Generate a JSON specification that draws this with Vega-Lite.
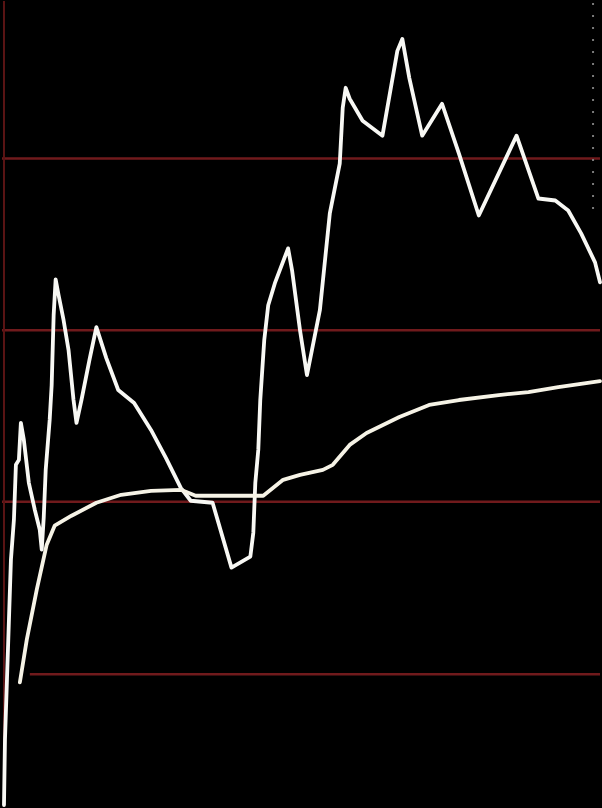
{
  "$schema": "https://vega.github.io/schema/vega-lite/v6.json",
  "width": 602,
  "height": 808,
  "padding": 0,
  "autosize": {"type": "fit", "contains": "padding"},
  "background": "#000000",
  "config": {"view": {"stroke": null}},
  "datasets": {
    "grid": [{"g": 158, "a": 0, "b": 602}, {"g": 330, "a": 0, "b": 602}, {"g": 502, "a": 0, "b": 602}, {"g": 675, "a": 28, "b": 602}],
    "vline": [{"vx": 2}],
    "dots": [{"dx": 595, "top": 2, "bottom": 212}],
    "series": [
      {"s": "price", "x": 2, "y": 806},
      {"s": "price", "x": 3, "y": 740},
      {"s": "price", "x": 5, "y": 680},
      {"s": "price", "x": 7, "y": 620},
      {"s": "price", "x": 9, "y": 560},
      {"s": "price", "x": 12, "y": 520},
      {"s": "price", "x": 14, "y": 465},
      {"s": "price", "x": 17, "y": 460},
      {"s": "price", "x": 19, "y": 423},
      {"s": "price", "x": 22, "y": 440},
      {"s": "price", "x": 27, "y": 483},
      {"s": "price", "x": 33, "y": 510},
      {"s": "price", "x": 38, "y": 530},
      {"s": "price", "x": 40, "y": 550},
      {"s": "price", "x": 42, "y": 518},
      {"s": "price", "x": 44, "y": 470},
      {"s": "price", "x": 48, "y": 420},
      {"s": "price", "x": 50, "y": 385},
      {"s": "price", "x": 52, "y": 315},
      {"s": "price", "x": 54, "y": 279},
      {"s": "price", "x": 57, "y": 295},
      {"s": "price", "x": 62, "y": 320},
      {"s": "price", "x": 67, "y": 350},
      {"s": "price", "x": 72, "y": 400},
      {"s": "price", "x": 75, "y": 423},
      {"s": "price", "x": 80, "y": 400},
      {"s": "price", "x": 88, "y": 360},
      {"s": "price", "x": 95, "y": 327},
      {"s": "price", "x": 105, "y": 358},
      {"s": "price", "x": 117, "y": 390},
      {"s": "price", "x": 133, "y": 403},
      {"s": "price", "x": 150, "y": 430},
      {"s": "price", "x": 165, "y": 458},
      {"s": "price", "x": 180, "y": 488},
      {"s": "price", "x": 190, "y": 501},
      {"s": "price", "x": 212, "y": 503},
      {"s": "price", "x": 231, "y": 568},
      {"s": "price", "x": 250, "y": 557},
      {"s": "price", "x": 253, "y": 533},
      {"s": "price", "x": 255, "y": 483},
      {"s": "price", "x": 258, "y": 450},
      {"s": "price", "x": 260, "y": 400},
      {"s": "price", "x": 264, "y": 340},
      {"s": "price", "x": 268, "y": 305},
      {"s": "price", "x": 275, "y": 282},
      {"s": "price", "x": 288, "y": 248},
      {"s": "price", "x": 292, "y": 270},
      {"s": "price", "x": 300, "y": 330},
      {"s": "price", "x": 307, "y": 375},
      {"s": "price", "x": 312, "y": 350},
      {"s": "price", "x": 320, "y": 310},
      {"s": "price", "x": 330, "y": 213},
      {"s": "price", "x": 340, "y": 163},
      {"s": "price", "x": 343, "y": 107},
      {"s": "price", "x": 346, "y": 87},
      {"s": "price", "x": 350, "y": 98},
      {"s": "price", "x": 363, "y": 120},
      {"s": "price", "x": 383, "y": 135},
      {"s": "price", "x": 398, "y": 50},
      {"s": "price", "x": 403, "y": 38},
      {"s": "price", "x": 410, "y": 77},
      {"s": "price", "x": 423, "y": 135},
      {"s": "price", "x": 443, "y": 103},
      {"s": "price", "x": 460, "y": 153},
      {"s": "price", "x": 480, "y": 215},
      {"s": "price", "x": 518, "y": 135},
      {"s": "price", "x": 540, "y": 198},
      {"s": "price", "x": 557, "y": 200},
      {"s": "price", "x": 570, "y": 210},
      {"s": "price", "x": 583, "y": 233},
      {"s": "price", "x": 597, "y": 262},
      {"s": "price", "x": 602, "y": 282},
      {"s": "avg", "x": 18, "y": 683},
      {"s": "avg", "x": 25, "y": 640},
      {"s": "avg", "x": 35, "y": 590},
      {"s": "avg", "x": 45, "y": 545},
      {"s": "avg", "x": 53, "y": 526},
      {"s": "avg", "x": 70, "y": 516},
      {"s": "avg", "x": 95, "y": 503},
      {"s": "avg", "x": 120, "y": 495},
      {"s": "avg", "x": 150, "y": 491},
      {"s": "avg", "x": 180, "y": 490},
      {"s": "avg", "x": 195, "y": 496},
      {"s": "avg", "x": 263, "y": 496},
      {"s": "avg", "x": 283, "y": 480},
      {"s": "avg", "x": 300, "y": 475},
      {"s": "avg", "x": 323, "y": 470},
      {"s": "avg", "x": 333, "y": 465},
      {"s": "avg", "x": 350, "y": 445},
      {"s": "avg", "x": 367, "y": 433},
      {"s": "avg", "x": 400, "y": 417},
      {"s": "avg", "x": 430, "y": 405},
      {"s": "avg", "x": 460, "y": 400},
      {"s": "avg", "x": 500, "y": 395},
      {"s": "avg", "x": 530, "y": 392},
      {"s": "avg", "x": 560, "y": 387},
      {"s": "avg", "x": 602, "y": 381}
    ]
  },
  "layer": [
    {
      "data": {"name": "grid"},
      "mark": {"type": "rule", "color": "#701a1c", "strokeWidth": 2.5},
      "encoding": {
        "x": {"field": "a", "type": "quantitative", "scale": {"domain": [0, 602], "nice": false, "zero": false}, "axis": null},
        "x2": {"field": "b"},
        "y": {"field": "g", "type": "quantitative", "scale": {"domain": [0, 808], "reverse": true, "nice": false, "zero": false}, "axis": null}
      }
    },
    {
      "data": {"name": "vline"},
      "mark": {"type": "rule", "color": "#5a1414", "strokeWidth": 2},
      "encoding": {
        "x": {"field": "vx", "type": "quantitative", "scale": {"domain": [0, 602], "nice": false, "zero": false}, "axis": null}
      }
    },
    {
      "data": {"name": "dots"},
      "mark": {"type": "rule", "color": "#7a7a7a", "strokeWidth": 2, "strokeDash": [2, 10]},
      "encoding": {
        "x": {"field": "dx", "type": "quantitative", "scale": {"domain": [0, 602], "nice": false, "zero": false}, "axis": null},
        "y": {"field": "top", "type": "quantitative", "scale": {"domain": [0, 808], "reverse": true, "nice": false, "zero": false}, "axis": null},
        "y2": {"field": "bottom"}
      }
    },
    {
      "data": {"name": "series"},
      "mark": {"type": "line", "strokeWidth": 3.8, "strokeJoin": "round", "strokeCap": "round"},
      "encoding": {
        "x": {"field": "x", "type": "quantitative", "scale": {"domain": [0, 602], "nice": false, "zero": false}, "axis": null},
        "y": {"field": "y", "type": "quantitative", "scale": {"domain": [0, 808], "reverse": true, "nice": false, "zero": false}, "axis": null},
        "color": {"field": "s", "type": "nominal", "scale": {"domain": ["price", "avg"], "range": ["#f8f8f4", "#f6f3e6"]}, "legend": null}
      }
    }
  ]
}
